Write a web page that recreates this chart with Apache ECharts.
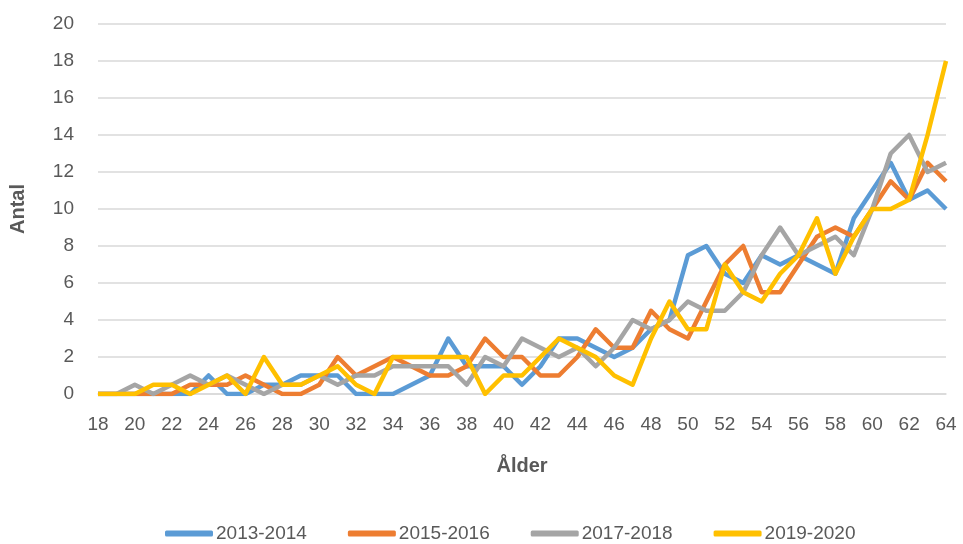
<!DOCTYPE html>
<html>
<head>
<meta charset="utf-8">
<script src="https://cdn.jsdelivr.net/npm/echarts@6/dist/echarts.min.js"></script>
<style>
html,body{margin:0;padding:0;background:#fff;}
#chart{width:963px;height:544px;}
</style>
</head>
<body>
<div id="chart"></div>
<script>
const ages = [];
for (let a = 18; a <= 64; a++) ages.push(String(a));

const seriesNames = ['2013-2014', '2015-2016', '2017-2018', '2019-2020'];

const s2013_2014 = [0,0,0,0,0,0,1,0,0,0.5,0.5,1,1,1,0,0,0,0.5,1,3,1.5,1.5,1.5,0.5,1.5,3,3,2.5,2,2.5,3.5,4,7.5,8,6.5,6,7.5,7,7.5,7,6.5,9.5,11,12.5,10.5,11,10];
const s2015_2016 = [0,0,0,0,0,0.5,0.5,0.5,1,0.5,0,0,0.5,2,1,1.5,2,1.5,1,1,1.5,3,2,2,1,1,2,3.5,2.5,2.5,4.5,3.5,3,5,7,8,5.5,5.5,7,8.5,9,8.5,10,11.5,10.5,12.5,11.5];
const s2017_2018 = [0,0,0.5,0,0.5,1,0.5,1,0.5,0,0.5,0.5,1,0.5,1,1,1.5,1.5,1.5,1.5,0.5,2,1.5,3,2.5,2,2.5,1.5,2.5,4,3.5,4,5,4.5,4.5,5.5,7.5,9,7.5,8,8.5,7.5,10,13,14,12,12.5];
const s2019_2020 = [0,0,0,0.5,0.5,0,0.5,1,0,2,0.5,0.5,1,1.5,0.5,0,2,2,2,2,2,0,1,1,2,3,2.5,2,1,0.5,3,5,3.5,3.5,7,5.5,5,6.5,7.5,9.5,6.5,8.5,10,10,10.5,14,18];

const colors = ['#5B9BD5', '#ED7D31', '#A5A5A5', '#FFC000'];
const allData = [s2013_2014, s2015_2016, s2017_2018, s2019_2020];

const FONT = '"Liberation Sans", Arial, sans-serif';

const chart = echarts.init(document.getElementById('chart'), null, {renderer: 'canvas'});
chart.setOption({
  animation: false,
  color: colors,
  grid: {left: 93, right: 17, top: 24, bottom: 150, containLabel: false},
  xAxis: {
    type: 'category',
    data: ages,
    boundaryGap: false,
    name: 'Ålder',
    nameLocation: 'middle',
    nameGap: 62,
    nameTextStyle: {fontFamily: FONT, fontSize: 20, fontWeight: 'bold', color: '#595959'},
    axisLine: {lineStyle: {color: '#D9D9D9', width: 1.5}},
    axisTick: {show: false},
    axisLabel: {interval: 1, margin: 21, fontFamily: FONT, fontSize: 19, color: '#595959'}
  },
  yAxis: {
    type: 'value',
    min: 0, max: 20, interval: 2,
    name: 'Antal',
    nameLocation: 'middle',
    nameGap: 70,
    nameRotate: 90,
    nameTextStyle: {fontFamily: FONT, fontSize: 20, fontWeight: 'bold', color: '#595959'},
    axisLine: {show: false},
    axisTick: {show: false},
    axisLabel: {margin: 24, fontFamily: FONT, fontSize: 19, color: '#595959'},
    splitLine: {lineStyle: {color: '#D9D9D9', width: 1.5}}
  },
  legend: {
    bottom: -4,
    left: 160,
    icon: 'roundRect',
    itemWidth: 48,
    itemHeight: 6,
    itemGap: 41,
    textStyle: {fontFamily: FONT, fontSize: 19, color: '#595959', padding: [0,0,0,-2]},
    data: seriesNames
  },
  series: seriesNames.map((n, i) => ({
    name: n,
    type: 'line',
    data: allData[i],
    symbol: 'none',
    lineStyle: {width: 4.5, color: colors[i], join: 'round'},
    itemStyle: {color: colors[i]}
  }))
});
</script>
</body>
</html>
